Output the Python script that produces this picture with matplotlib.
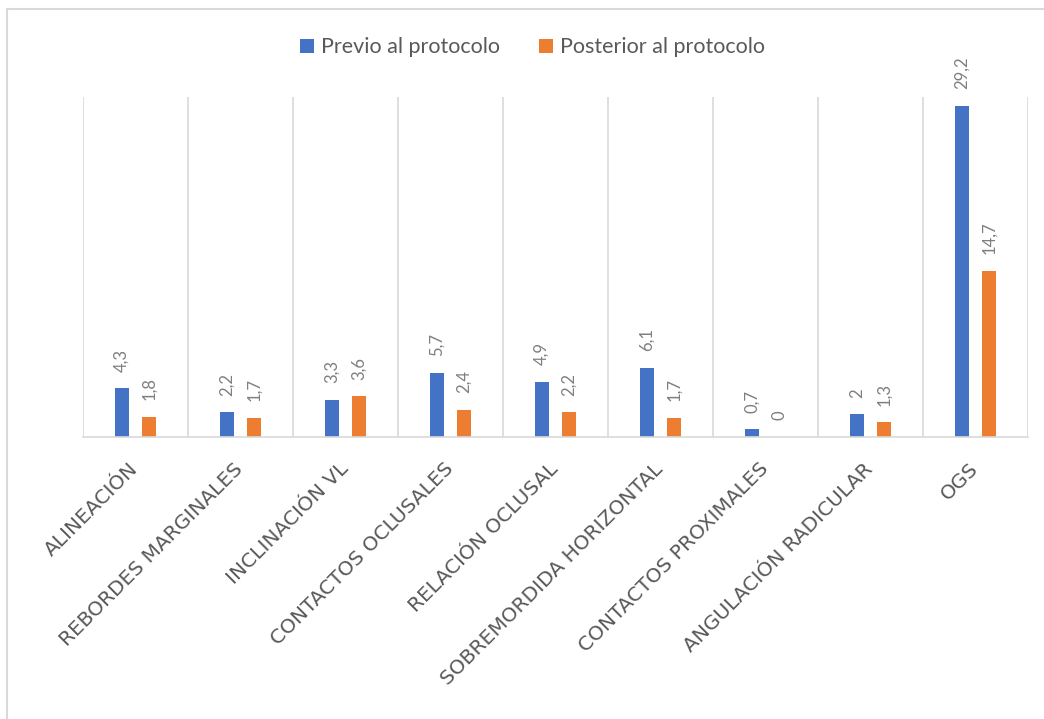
import matplotlib.pyplot as plt
from matplotlib.lines import Line2D
import numpy as np

# Datos del gráfico
categorias = ["ALINEACIÓN", "REBORDES MARGINALES", "INCLINACIÓN VL",
              "CONTACTOS OCLUSALES", "RELACIÓN OCLUSAL",
              "SOBREMORDIDA HORIZONTAL", "CONTACTOS PROXIMALES",
              "ANGULACIÓN RADICULAR", "OGS"]
previo = [4.3, 2.2, 3.3, 5.7, 4.9, 6.1, 0.7, 2, 29.2]
posterior = [1.8, 1.7, 3.6, 2.4, 2.2, 1.7, 0, 1.3, 14.7]
series = ["Previo al protocolo", "Posterior al protocolo"]

azul = "#4472C4"
naranja = "#ED7D31"
gris = "#D9D9D9"
texto = "#595959"

plt.rcParams['font.family'] = ['Lato', 'DejaVu Sans']

fig = plt.figure(figsize=(10.44, 7.19), dpi=100)
ax = fig.add_axes([0.0795, 0.392, 0.905, 0.473])

x = np.arange(len(categorias))
ancho = 0.135
b1 = ax.bar(x - 0.13, previo, ancho, color=azul, label=series[0])
b2 = ax.bar(x + 0.13, posterior, ancho, color=naranja, label=series[1])


def etiqueta(v):
    return ("%g" % v).replace(".", ",")


for barras, vals in ((b1, previo), (b2, posterior)):
    for b, v in zip(barras, vals):
        ax.annotate(etiqueta(v), (b.get_x() + b.get_width() / 2, v),
                    xytext=(0, 12), textcoords="offset points",
                    rotation=90, ha="center", va="bottom",
                    fontsize=12, color="#7F7F7F")

ax.set_xlim(-0.5, len(categorias) - 0.5)
ax.set_ylim(0, 30)
for s in ("top", "left", "right"):
    ax.spines[s].set_visible(False)
ax.spines["bottom"].set_color(gris)
ax.spines["bottom"].set_linewidth(1.2)
ax.set_yticks([])
ax.set_xticks(np.append(x - 0.5, len(categorias) - 0.5))
ax.set_xticklabels([])
ax.tick_params(axis="x", length=0)
ax.grid(axis="x", color=gris, linewidth=1.2)
ax.set_axisbelow(True)

# Etiquetas de categoría giradas 45°
for i, c in enumerate(categorias):
    ax.annotate(c, (i, 0), xytext=(-5, -16), textcoords="offset points",
                rotation=45, rotation_mode="anchor", ha="right", va="top",
                fontsize=14.5, color=texto, family="DejaVu Sans")

fig.legend(loc="upper center", bbox_to_anchor=(0.51, 0.975), ncol=2,
           frameon=False, fontsize=15.5, labelcolor=texto, handlelength=0.65,
           handleheight=0.65, columnspacing=1.8, handletextpad=0.35)

# Marco del gráfico (solo izquierda y arriba visibles)
fig.lines.append(Line2D([7 / 1044, 7 / 1044, 1.0], [0.0, 1 - 9 / 719, 1 - 9 / 719],
                        transform=fig.transFigure, color=gris, linewidth=1.5))

fig.savefig("out.png", dpi=100)
